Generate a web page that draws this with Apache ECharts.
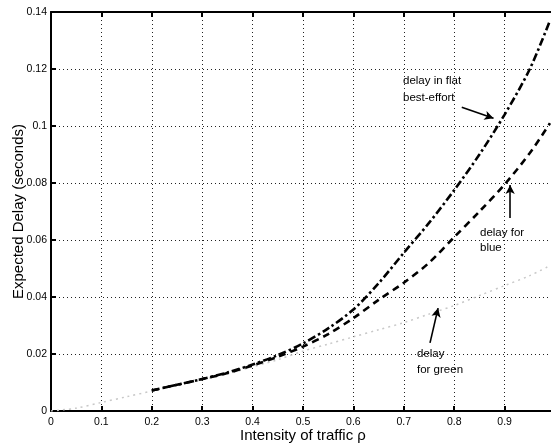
<!DOCTYPE html>
<html><head><meta charset="utf-8">
<script src="https://cdn.jsdelivr.net/npm/echarts@6/dist/echarts.min.js"></script>
<style>html,body{margin:0;padding:0;background:#fff}#c{width:551px;height:446px}</style>
</head><body><div id="c"></div>
<script>
const rho = [0,0.05,0.1,0.15,0.2,0.25,0.3,0.35,0.4,0.45,0.5,0.55,0.6,0.65,0.7,0.75,0.8,0.85,0.9,0.95,0.99];
const flatBE = [null,null,null,null,0.0072,0.0092,0.0112,0.0135,0.0163,0.0196,0.0237,0.029,0.0356,0.0448,0.0555,0.066,0.0775,0.090,0.104,0.120,0.137];
const blue   = [null,null,null,null,0.0072,0.0092,0.0112,0.0133,0.016,0.019,0.0226,0.027,0.0326,0.039,0.045,0.052,0.061,0.070,0.0795,0.0905,0.101];
const green  = [0,0.001,0.003,0.005,0.007,0.009,0.011,0.013,0.0155,0.018,0.021,0.0235,0.026,0.0285,0.031,0.034,0.037,0.0405,0.044,0.0475,0.051];
const xTicks = {min:0, max:1, interval:0.1};
const yTicks = {min:0, max:0.14, interval:0.02};
const arrows = [
  {from:[0.815,0.1066], to:[0.878,0.1027]},
  {from:[0.911,0.0677], to:[0.911,0.0793]},
  {from:[0.752,0.0239], to:[0.768,0.0361]}
];
const pair = ys => rho.map((x,i)=>[x,ys[i]]);
const FONT = '"Liberation Sans", Arial, Helvetica, sans-serif';
const chart = echarts.init(document.getElementById('c'), null, {renderer:'canvas'});
chart.setOption({
  animation:false,
  backgroundColor:'#fff',
  grid:{left:51,right:-4,top:12,bottom:35,containLabel:false,outerBoundsMode:'none'},
  xAxis:[{
    type:'value', min:xTicks.min, max:xTicks.max, interval:xTicks.interval,
    name:'Intensity of traffic \u03c1', nameLocation:'middle', nameGap:17, nameMoveOverlap:false,
    nameTextStyle:{fontFamily:FONT,fontSize:15,color:'#000'},
    axisLine:{lineStyle:{color:'#000',width:2}},
    axisTick:{inside:true,length:5,lineStyle:{color:'#000',width:2}},
    axisLabel:{fontFamily:FONT,fontSize:10.5,color:'#000',margin:6},
    splitLine:{show:true,lineStyle:{color:'#222',width:1,type:[1,3]}}
  },{
    type:'value', position:'top', min:xTicks.min, max:xTicks.max, interval:xTicks.interval,
    axisLine:{show:true,lineStyle:{color:'#000',width:2}},
    axisTick:{show:true,inside:true,length:5,lineStyle:{color:'#000',width:2}},
    axisLabel:{show:false}, splitLine:{show:false}
  }],
  yAxis:{
    type:'value', min:yTicks.min, max:yTicks.max, interval:yTicks.interval,
    name:'Expected Delay (seconds)', nameLocation:'middle', nameGap:25, nameMoveOverlap:false,
    nameTextStyle:{fontFamily:FONT,fontSize:15,color:'#000'},
    axisLine:{show:true,lineStyle:{color:'#000',width:2}},
    axisTick:{show:true,inside:true,length:5,lineStyle:{color:'#000',width:2}},
    axisLabel:{fontFamily:FONT,fontSize:10.5,color:'#000',margin:4},
    splitLine:{show:true,lineStyle:{color:'#222',width:1,type:[1,3]}}
  },
  series:[
    {type:'line', name:'green', data:pair(green), smooth:0.3, symbol:'none',
     lineStyle:{color:'#c8c8c8',width:1.5,type:[2,4]}},
    {type:'line', name:'blue', data:pair(blue), smooth:0.3, symbol:'none', connectNulls:false,
     lineStyle:{color:'#000',width:2.6,type:[7,5]}},
    {type:'line', name:'flat', data:pair(flatBE), smooth:0.3, symbol:'none',
     lineStyle:{color:'#000',width:2.6,type:[8,3,2.5,3]},
     markLine:{silent:true, symbol:['none','arrow'], symbolSize:[7,9], label:{show:false},
       lineStyle:{color:'#000',width:1.6,type:'solid'},
       data:arrows.map(a=>[{coord:a.from},{coord:a.to}])}
    }
  ],
  graphic:[
    {type:'text', left:403, top:72, style:{text:'delay in flat\nbest-effort', font:'11.5px '+FONT, fill:'#000', lineHeight:17}},
    {type:'text', left:480, top:225, style:{text:'delay for\nblue', font:'11.5px '+FONT, fill:'#000', lineHeight:15}},
    {type:'text', left:417, top:346, style:{text:'delay\nfor green', font:'11.5px '+FONT, fill:'#000', lineHeight:16}}
  ]
});
</script></body></html>
